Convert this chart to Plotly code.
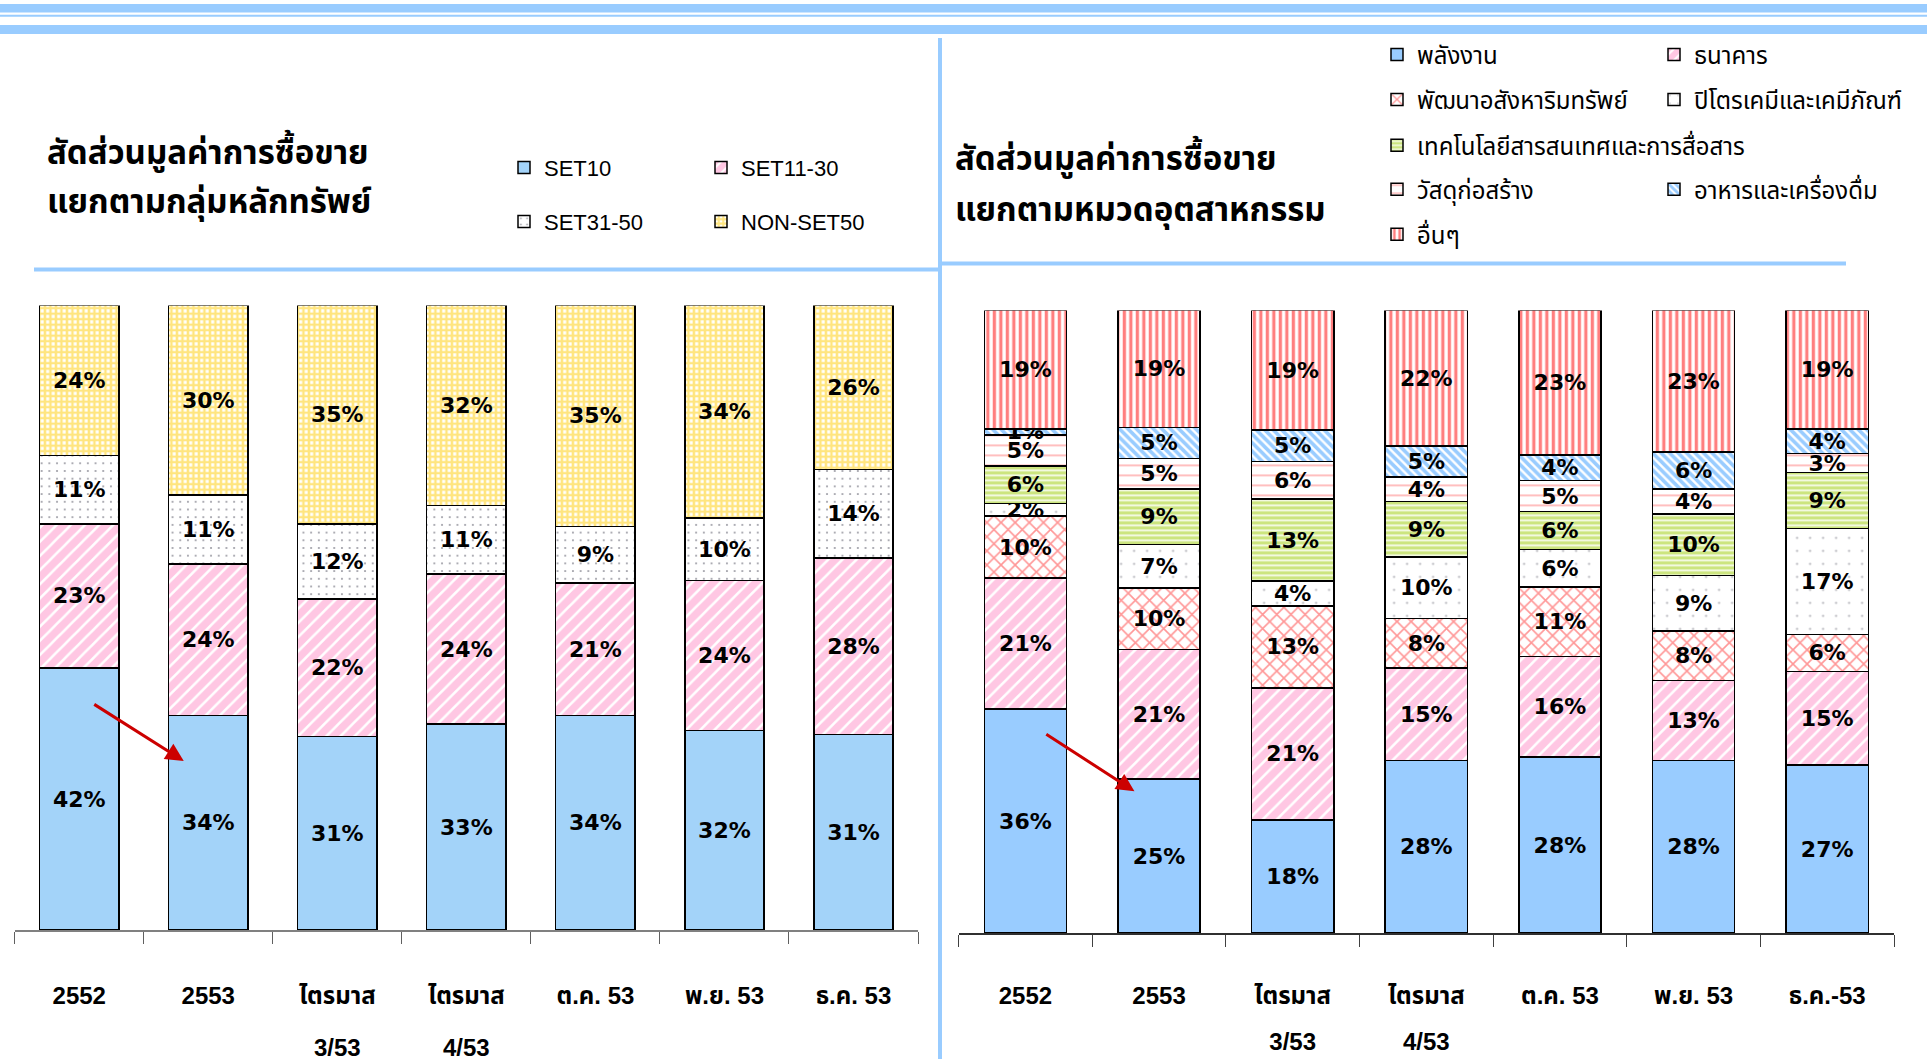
import plotly.graph_objects as go

# ---------------- data ----------------
left_categories = ["2552", "2553", "ไตรมาส 3/53", "ไตรมาส 4/53",
                   "ต.ค. 53", "พ.ย. 53", "ธ.ค. 53"]
set10 = [42, 34, 31, 33, 34, 32, 31]
set11_30 = [23, 24, 22, 24, 21, 24, 28]
set31_50 = [11, 11, 12, 11, 9, 10, 14]
non_set50 = [24, 30, 35, 32, 35, 34, 26]

right_categories = ["2552", "2553", "ไตรมาส 3/53", "ไตรมาส 4/53",
                    "ต.ค. 53", "พ.ย. 53", "ธ.ค.-53"]
energy = [36, 25, 18, 28, 28, 28, 27]
banking = [21, 21, 21, 15, 16, 13, 15]
property_dev = [10, 10, 13, 8, 11, 8, 6]
petrochem = [2, 7, 4, 10, 6, 9, 17]
ict = [6, 9, 13, 9, 6, 10, 9]
construction = [5, 5, 6, 4, 5, 4, 3]
food = [1, 5, 5, 5, 4, 6, 4]
others = [19, 19, 19, 22, 23, 23, 19]

left_title_lines = ["สัดส่วนมูลค่าการซื้อขาย", "แยกตามกลุ่มหลักทรัพย์"]
right_title_lines = ["สัดส่วนมูลค่าการซื้อขาย", "แยกตามหมวดอุตสาหกรรม"]

# ---------------- styling ----------------
W, H = 1927, 1061
THAI = "Noto Sans Thai, Loma, Garuda, Sarabun, Tlwg Typo, DejaVu Sans, sans-serif"
LAB = "DejaVu Sans, Verdana, sans-serif"
TICK = "Liberation Sans, Arial, Noto Sans Thai, sans-serif"

def py(px):
    return 1 - px / H

def px_(x):
    return x / W

def tick_text(cat):
    # quarter labels are shown on two lines with a blank line between
    parts = cat.split(" ", 1) if cat.startswith("ไตรมาส") else [cat]
    return "<br><br>".join("<span style='font-size:24px'>%s</span>" % p for p in parts)

PINK = dict(shape="/", fgcolor="#FF8FC8", bgcolor="white", size=10, solidity=0.75)

left_series = [
    ("SET10", set10, dict(color="#A3D3F9"), "legend", 504, 168),
    ("SET11-30", set11_30, dict(color="white", pattern=PINK), "legend2", 701, 168),
    ("SET31-50", set31_50, dict(color="white", pattern=dict(shape=".", fgcolor="#333344", bgcolor="white", size=7.7, solidity=0.06)), "legend3", 504, 222),
    ("NON-SET50", non_set50, dict(color="white", pattern=dict(shape="+", fgcolor="#FFCC00", bgcolor="white", size=5.5, solidity=0.7)), "legend4", 701, 222),
]

right_series = [
    ("พลังงาน", energy, dict(color="#99CCFF"), "legend5", 1377, 55),
    ("ธนาคาร", banking, dict(color="white", pattern=PINK), "legend6", 1654, 55),
    ("พัฒนาอสังหาริมทรัพย์", property_dev, dict(color="white", pattern=dict(shape="x", fgcolor="#FF3030", bgcolor="white", size=10, solidity=0.3)), "legend7", 1377, 100),
    ("ปิโตรเคมีและเคมีภัณฑ์", petrochem, dict(color="white", pattern=dict(shape=".", fgcolor="#555566", bgcolor="white", size=13, solidity=0.022)), "legend8", 1654, 100),
    ("เทคโนโลยีสารสนเทศและการสื่อสาร", ict, dict(color="white", pattern=dict(shape="-", fgcolor="#99CC00", bgcolor="white", size=5, solidity=0.7)), "legend9", 1377, 146),
    ("วัสดุก่อสร้าง", construction, dict(color="white", pattern=dict(shape="-", fgcolor="#FF8080", bgcolor="white", size=10, solidity=0.2)), "legend10", 1377, 190),
    ("อาหารและเครื่องดื่ม", food, dict(color="white", pattern=dict(shape="\\", fgcolor="#3399FF", bgcolor="white", size=6, solidity=0.6)), "legend11", 1654, 190),
    ("อื่นๆ", others, dict(color="white", pattern=dict(shape="|", fgcolor="#FF0000", bgcolor="white", size=6.5, solidity=0.5)), "legend12", 1377, 235),
]

fig = go.Figure()

for name, vals, marker, lg, lx, ly in left_series:
    fig.add_trace(go.Bar(
        x=left_categories, y=vals, name=name, text=vals,
        texttemplate="%{text}%", textposition="inside", insidetextanchor="middle",
        textfont=dict(family=LAB, size=22, color="black", weight="bold"),
        marker=dict(**marker, line=dict(color="black", width=1.5)),
        xaxis="x", yaxis="y", legend=lg, hoverinfo="skip",
    ))

for name, vals, marker, lg, lx, ly in right_series:
    fig.add_trace(go.Bar(
        x=right_categories, y=vals, name=name, text=vals,
        texttemplate="%{text}%", textposition="inside", insidetextanchor="middle",
        textfont=dict(family=LAB, size=22, color="black", weight="bold"),
        marker=dict(**marker, line=dict(color="black", width=1.5)),
        xaxis="x2", yaxis="y2", legend=lg, hoverinfo="skip",
    ))

legends = {}
for name, vals, marker, lg, lx, ly in left_series:
    legends[lg] = dict(x=px_(lx), y=py(ly), xanchor="left", yanchor="middle",
                       bgcolor="rgba(0,0,0,0)", borderwidth=0,
                       font=dict(family="Liberation Sans, Arial, sans-serif", size=22, color="black"))
for name, vals, marker, lg, lx, ly in right_series:
    legends[lg] = dict(x=px_(lx), y=py(ly), xanchor="left", yanchor="middle",
                       bgcolor="rgba(0,0,0,0)", borderwidth=0,
                       font=dict(family=THAI, size=24, color="black"))

fig.update_layout(
    width=W, height=H,
    margin=dict(l=0, r=0, t=0, b=0),
    paper_bgcolor="white", plot_bgcolor="white",
    barmode="stack", barnorm="percent", bargap=0.385,
    uniformtext=dict(minsize=22, mode="show"),
    showlegend=True,
    xaxis=dict(domain=[14.7 / W, 918 / W], anchor="y", type="category",
               categoryorder="array", categoryarray=left_categories,
               tickmode="array", tickvals=left_categories,
               ticktext=[tick_text(c) for c in left_categories],
               showline=True, linecolor="#808080", linewidth=2,
               ticks="outside", tickson="boundaries", ticklen=12, tickcolor="#606060",
               tickfont=dict(family=TICK, size=20, color="black", weight="bold"),
               ticklabelstandoff=48, showgrid=False),
    yaxis=dict(domain=[1 - 932 / H, 1 - 306 / H], anchor="x", range=[0, 100],
               visible=False, showgrid=False, zeroline=False),
    xaxis2=dict(domain=[958.6 / W, 1894 / W], anchor="y2", type="category",
                categoryorder="array", categoryarray=right_categories,
                tickmode="array", tickvals=right_categories,
                ticktext=[tick_text(c) for c in right_categories],
                showline=True, linecolor="#303030", linewidth=1.5,
                ticks="outside", tickson="boundaries", ticklen=12, tickcolor="#404040",
                tickfont=dict(family=TICK, size=18, color="black", weight="bold"),
                ticklabelstandoff=47, showgrid=False),
    yaxis2=dict(domain=[1 - 935 / H, 1 - 311 / H], anchor="x2", range=[0, 100],
                visible=False, showgrid=False, zeroline=False),
    **legends,
)

# decorative header bands and separators
blue = "#99CCFF"
shapes = [
    dict(type="rect", xref="paper", yref="paper", x0=0, x1=1, y0=py(12.5), y1=py(4), fillcolor=blue, line_width=0),
    dict(type="line", xref="paper", yref="paper", x0=0, x1=1, y0=py(15.7), y1=py(15.7), line=dict(color=blue, width=2)),
    dict(type="rect", xref="paper", yref="paper", x0=0, x1=1, y0=py(34), y1=py(25), fillcolor=blue, line_width=0),
    dict(type="line", xref="paper", yref="paper", x0=px_(940), x1=px_(940), y0=0, y1=py(38), line=dict(color=blue, width=4)),
    dict(type="line", xref="paper", yref="paper", x0=px_(34), x1=px_(940), y0=py(270), y1=py(270), line=dict(color=blue, width=4)),
    dict(type="line", xref="paper", yref="paper", x0=px_(940), x1=px_(1846), y0=py(264), y1=py(264), line=dict(color=blue, width=4)),
]
fig.update_layout(shapes=shapes)

title_font = dict(family=THAI, size=33, color="black", weight="bold")
for line, ypx in zip(left_title_lines, [154, 203]):
    fig.add_annotation(text=line, xref="paper", yref="paper", x=px_(45), y=py(ypx),
                       xanchor="left", yanchor="middle", align="left", showarrow=False, font=title_font)
for line, ypx in zip(right_title_lines, [160, 211]):
    fig.add_annotation(text=line, xref="paper", yref="paper", x=px_(953), y=py(ypx),
                       xanchor="left", yanchor="middle", align="left", showarrow=False, font=title_font)

# red arrows
fig.add_annotation(x=0.81, y=27.1, ax=0.105, ay=36.3, xref="x", yref="y", axref="x", ayref="y",
                   text="", showarrow=True, arrowhead=2, arrowsize=1.2, arrowwidth=3, arrowcolor="#CC0000")
fig.add_annotation(x=0.816, y=22.8, ax=0.145, ay=32.1, xref="x2", yref="y2", axref="x2", ayref="y2",
                   text="", showarrow=True, arrowhead=2, arrowsize=1.2, arrowwidth=3, arrowcolor="#CC0000")

fig.write_html("out.html", config={"displayModeBar": False},
               post_script="document.body.style.margin='0';document.body.style.overflow='hidden';")
